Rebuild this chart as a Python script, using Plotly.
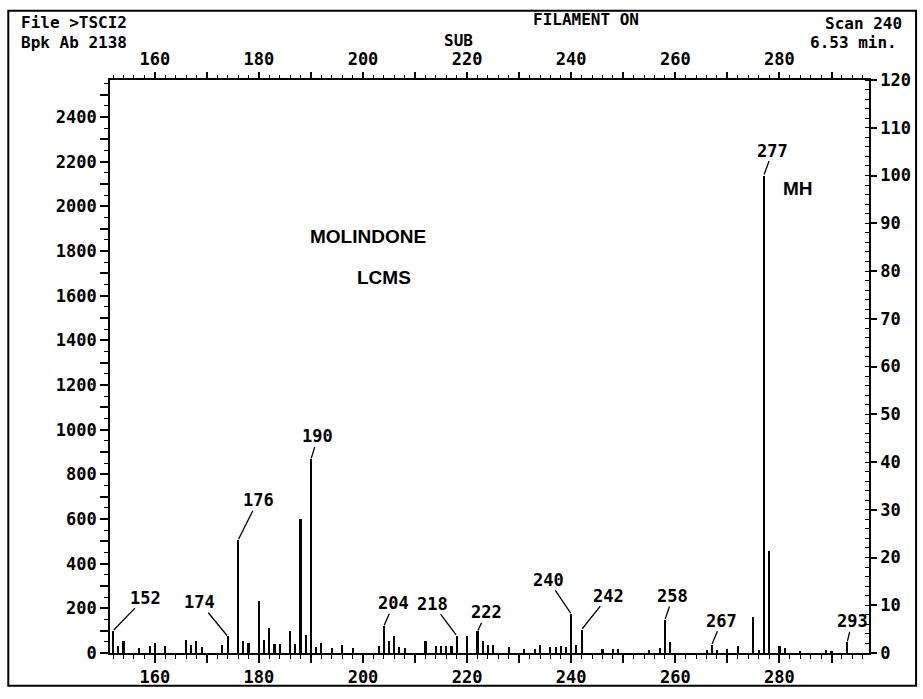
import plotly.graph_objects as go

# ---- data ----
mz = [152, 153, 154, 157, 159, 160, 162, 166, 167, 168, 169, 173, 174, 176, 177, 178,
      180, 181, 182, 183, 184, 186, 187, 188, 189, 190, 191, 192, 194, 196, 198,
      203, 204, 205, 206, 207, 208, 212, 214, 215, 216, 217, 218, 220, 222, 223, 224,
      225, 228, 231, 233, 234, 236, 237, 238, 239, 240, 241, 242, 246, 248, 249,
      255, 257, 258, 259, 266, 267, 268, 270, 272, 275, 276, 277, 278, 280, 281,
      284, 289, 290, 293]
abundance = [100, 30, 55, 22, 30, 45, 30, 57, 38, 52, 28, 38, 75, 505, 52, 45,
             235, 57, 112, 42, 42, 100, 40, 600, 82, 867, 25, 45, 22, 36, 22,
             30, 120, 52, 78, 25, 22, 52, 30, 30, 30, 30, 78, 78, 97, 52, 38,
             38, 25, 20, 20, 38, 28, 28, 30, 28, 175, 38, 105, 18, 18, 18,
             15, 22, 148, 48, 15, 37, 15, 20, 30, 160, 15, 2138, 455, 33, 22,
             10, 15, 8, 48]
base_peak = 2138

labelled_mz = [152, 174, 176, 190, 204, 218, 222, 240, 242, 258, 267, 277, 293]

x_ticks = [160, 170, 180, 190, 200, 210, 220, 230, 240, 250, 260, 270, 280, 290]
x_tick_labels = ["160", "", "180", "", "200", "", "220", "", "240", "", "260", "", "280", ""]
y_ticks = [0, 100, 200, 300, 400, 500, 600, 700, 800, 900, 1000, 1100, 1200, 1300,
           1400, 1500, 1600, 1700, 1800, 1900, 2000, 2100, 2200, 2300, 2400, 2500]
y_tick_labels = ["0", "", "200", "", "400", "", "600", "", "800", "", "1000", "", "1200", "",
                 "1400", "", "1600", "", "1800", "", "2000", "", "2200", "", "2400", ""]
pct_ticks = [0, 10, 20, 30, 40, 50, 60, 70, 80, 90, 100, 110, 120]
pct_tick_labels = ["0", "10", "20", "30", "40", "50", "60", "70", "80", "90", "100", "110", "120"]

# ---- styling / placement (not data) ----
label_offsets = {152: (32, -33), 174: (-28, -34), 176: (20, -40), 190: (7, -23),
                 204: (10, -23), 218: (-24, -32), 222: (9, -19), 240: (-23, -34),
                 242: (27, -34), 258: (8, -24), 267: (10, -24), 277: (9, -25),
                 293: (5, -21)}
x_range = [151.4, 297.2]
y_top = base_peak * 1.2

plotter = dict(family="DejaVu Sans Mono", size=17, color="black", weight="bold")
header_font = dict(family="DejaVu Sans Mono", size=16, color="black", weight="bold")
caption = dict(family="Liberation Sans", size=19, color="black", weight="bold")

fig = go.Figure()
fig.add_trace(go.Bar(x=mz, y=abundance, width=0.4, marker=dict(color="black", line=dict(width=0)),
                     showlegend=False, hoverinfo="x+y"))
# carrier trace for the top / right axes
fig.add_trace(go.Scatter(x=[x_range[0]], y=[0], xaxis="x2", yaxis="y2", mode="markers",
                         marker=dict(opacity=0), showlegend=False, hoverinfo="skip"))

lookup = dict(zip(mz, abundance))
for m in labelled_mz:
    ax, ay = label_offsets[m]
    fig.add_annotation(x=m, y=lookup[m], text=str(m), showarrow=True, arrowhead=0,
                       arrowwidth=1.3, arrowcolor="black", ax=ax, ay=ay, standoff=1,
                       font=plotter, borderpad=0)

fig.add_annotation(x=201, y=1867, text="MOLINDONE", showarrow=False, font=caption)
fig.add_annotation(x=204, y=1680, text="LCMS", showarrow=False, font=caption)
fig.add_annotation(x=283.6, y=2080, text="MH", showarrow=False, font=caption)

# header texts (paper coords)
hdr = [("File >TSCI2", -0.12, 1.0998, "left"),
       ("Bpk Ab 2138", -0.12, 1.0654, "left"),
       ("FILAMENT ON", 0.627, 1.105, "center"),
       ("SUB", 0.459, 1.0688, "center"),
       ("Scan 240", 1.046, 1.098, "right"),
       ("6.53 min.", 1.039, 1.0654, "right")]
for t, x, y, anc in hdr:
    fig.add_annotation(xref="paper", yref="paper", x=x, y=y, text=t, showarrow=False,
                       xanchor=anc, yanchor="middle", font=header_font)

# outer frame
fig.add_shape(type="rect", xref="paper", yref="paper", x0=-0.134, x1=1.062, y0=-0.057, y1=1.121,
              line=dict(color="black", width=2))

axis_common = dict(showgrid=False, zeroline=False, showline=True, linecolor="black",
                   linewidth=1.6, tickcolor="black", tickwidth=1.6, tickfont=plotter)

fig.update_layout(
    width=923, height=699, margin=dict(l=110, r=51, t=80, b=38),
    paper_bgcolor="white", plot_bgcolor="white", bargap=0,
    xaxis=dict(range=x_range, tickmode="array", tickvals=x_ticks, ticktext=x_tick_labels,
               ticks="outside", ticklen=8, minor=dict(dtick=2, tick0=160, ticks="outside", ticklen=4,
                                                     tickcolor="black", tickwidth=1.3),
               **axis_common),
    xaxis2=dict(range=x_range, overlaying="x", side="top", tickmode="array", tickvals=x_ticks,
                ticktext=x_tick_labels, ticks="outside", ticklen=6,
                minor=dict(dtick=2, tick0=160, ticks="outside", ticklen=3,
                           tickcolor="black", tickwidth=1.3), **axis_common),
    yaxis=dict(range=[0, y_top], tickmode="array", tickvals=y_ticks, ticktext=y_tick_labels,
               ticks="outside", ticklen=8, minor=dict(dtick=50, tick0=0, ticks="outside", ticklen=4,
                                                     tickcolor="black", tickwidth=1.3),
               **axis_common),
    yaxis2=dict(range=[0, 120], overlaying="y", side="right", tickmode="array", tickvals=pct_ticks,
                ticktext=pct_tick_labels, ticks="outside", ticklen=6,
                minor=dict(dtick=2, tick0=0, ticks="inside", ticklen=4, tickcolor="black", tickwidth=1.3),
                **axis_common),
)

fig.write_html("out.html")
